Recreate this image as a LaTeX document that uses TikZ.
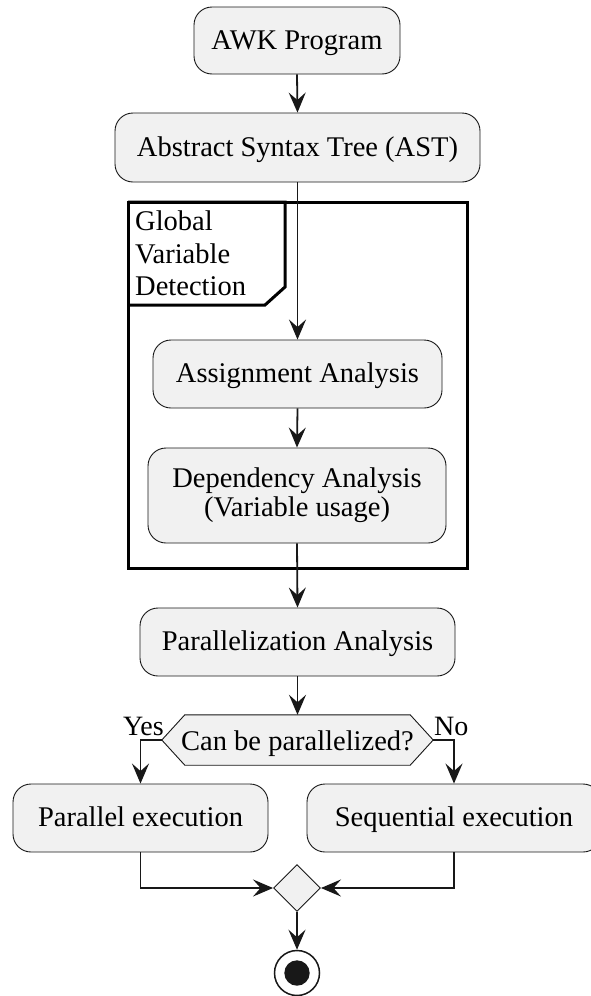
\documentclass[tikz,border=0pt]{standalone}
\usepackage{fontspec}
\setmainfont{Liberation Serif}
\usetikzlibrary{arrows.meta,shapes.geometric}
\definecolor{boxfill}{HTML}{F1F1F1}
\definecolor{boxline}{HTML}{181818}
\tikzset{
  act/.style={draw=boxline,fill=boxfill,line width=0.9pt,rounded corners=18pt,inner sep=0pt,
    font=\fontsize{28.5}{29}\selectfont,align=center},
  oneline/.style={text height=21pt,text depth=3.6pt},
  conn/.style={draw=boxline,line width=1.8pt},
  arr/.style={conn,-{Stealth[length=20pt,width=17pt,inset=7.5pt]}},
  lbl/.style={inner sep=0pt,font=\fontsize{28}{28}\selectfont},
}
\begin{document}
\begin{tikzpicture}[x=1pt,y=-1pt]
\useasboundingbox (0,0) rectangle (590,996);
\fill[white] (0,0) rectangle (590,996);
% partition
\draw[line width=3pt,black] (128,202) rectangle (467,568);
\draw[line width=3pt,black] (128,202) -- (285,202) -- (285,287) -- (265,305) -- (128,305);
\node[inner sep=0pt,anchor=north west,align=left,font=\fontsize{28.5}{32.5}\selectfont] (plabel) at (135,211) {Global\\Variable\\Detection};
% activities
\node[act,oneline,minimum width=206pt,minimum height=67pt] (awk) at (297,40.5) {AWK Program};
\node[act,oneline,minimum width=365pt,minimum height=69pt] (ast) at (297.5,147.5) {Abstract Syntax Tree (AST)};
\node[act,oneline,minimum width=289pt,minimum height=68pt] (assign) at (297.5,374) {Assignment Analysis};
\node[act,minimum width=298pt,minimum height=95pt] (dep) at (297,495.5) {Dependency Analysis\\(Variable usage)};
\node[act,oneline,minimum width=315pt,minimum height=68pt] (par) at (297.5,642) {Parallelization Analysis};
% decision
\node[minimum width=271pt,minimum height=50pt,inner sep=0pt] (hex) at (297.5,740) {};
\draw[draw=boxline,fill=boxfill,line width=0.9pt] (hex.west) -- ([xshift=23pt]hex.north west) -- ([xshift=-23pt]hex.north east) -- (hex.east) -- ([xshift=-23pt]hex.south east) -- ([xshift=23pt]hex.south west) -- cycle;
\node[inner sep=0pt,oneline,font=\fontsize{28.5}{29}\selectfont] (hextext) at (297.5,742) {Can be parallelized?};
\node[lbl,anchor=base east] (yes) at (164,735) {Yes};
\node[lbl,anchor=base west] (no) at (434,735) {No};
\node[act,oneline,minimum width=255pt,minimum height=68pt] (pexec) at (140.5,818) {Parallel execution};
\node[act,oneline,minimum width=294pt,minimum height=68pt] (sexec) at (454,818) {Sequential execution};
% merge and end
\node[diamond,aspect=1,draw=boxline,fill=boxfill,line width=0.9pt,minimum size=47pt,inner sep=0pt] (merge) at (297,888) {};
\node[circle,draw=boxline,line width=1.5pt,fill=white,minimum size=45pt,inner sep=0pt] (end) at (297,973) {};
\fill[boxline] (end.center) circle (12.7pt);
% connectors
\draw[arr] (awk.south) -- (ast.north);
\draw[arr] (ast.south) -- (assign.north);
\draw[arr] (assign.south) -- (dep.north);
\draw[arr] (dep.south) -- (par.north);
\draw[arr] (par.south) -- (hex.north);
\draw[arr] (hex.west) -| (pexec.north);
\draw[arr] (hex.east) -| (sexec.north);
\draw[arr] (pexec.south) |- (merge.west);
\draw[arr] (sexec.south) |- (merge.east);
\draw[arr] (merge.south) -- (end.north);
\end{tikzpicture}
\end{document}
